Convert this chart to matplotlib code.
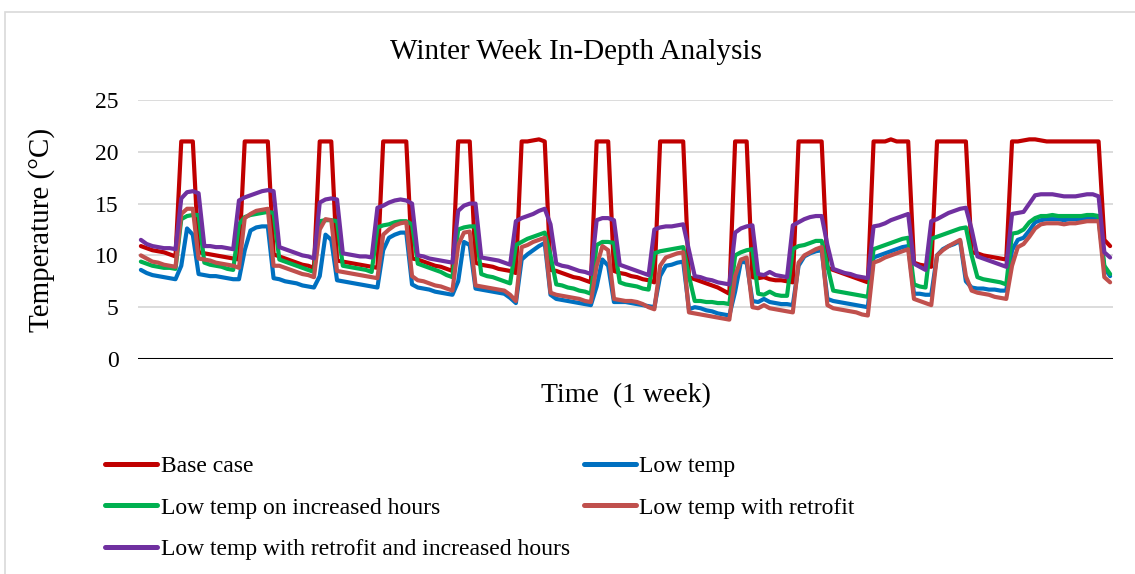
import numpy as np
import matplotlib
matplotlib.use("Agg")
import matplotlib.pyplot as plt
from matplotlib.patches import Rectangle

plt.rcParams["font.family"] = ["Liberation Serif", "DejaVu Serif"]

# hourly temperatures (degC) over one winter week, one row per day
base_case = [
    10.9, 10.7, 10.5, 10.4, 10.3, 10.1, 9.9, 21.0, 21.0, 21.0, 10.3, 10.2, 10.1, 10.0, 9.9, 9.8, 9.7, 9.6, 21.0, 21.0, 21.0, 21.0, 21.0, 10.1,
    9.9, 9.7, 9.5, 9.3, 9.1, 9.0, 8.8, 21.0, 21.0, 21.0, 9.5, 9.4, 9.3, 9.2, 9.1, 9.0, 8.9, 8.8, 21.0, 21.0, 21.0, 21.0, 21.0, 9.7,
    9.6, 9.4, 9.2, 9.0, 8.9, 8.7, 8.5, 21.0, 21.0, 21.0, 9.3, 9.1, 9.0, 8.9, 8.7, 8.6, 8.5, 8.3, 21.0, 21.0, 21.1, 21.2, 21.0, 8.6,
    8.5, 8.3, 8.1, 7.9, 7.8, 7.6, 7.4, 21.0, 21.0, 21.0, 8.5, 8.3, 8.2, 8.0, 7.9, 7.7, 7.6, 7.4, 21.0, 21.0, 21.0, 21.0, 21.0, 7.9,
    7.7, 7.5, 7.3, 7.1, 6.9, 6.6, 6.3, 21.0, 21.0, 21.0, 7.9, 7.8, 7.9, 7.7, 7.6, 7.6, 7.5, 7.4, 21.0, 21.0, 21.0, 21.0, 21.0, 8.8,
    8.6, 8.4, 8.2, 8.0, 7.8, 7.6, 7.4, 21.0, 21.0, 21.0, 21.2, 21.0, 21.0, 21.0, 9.3, 9.1, 9.0, 8.9, 21.0, 21.0, 21.0, 21.0, 21.0, 21.0,
    10.3, 10.2, 10.0, 9.9, 9.8, 9.7, 9.6, 21.0, 21.0, 21.1, 21.2, 21.2, 21.1, 21.0, 21.0, 21.0, 21.0, 21.0, 21.0, 21.0, 21.0, 21.0, 21.0, 11.5,
    10.9,
]

low_temp = [
    8.6, 8.3, 8.1, 8.0, 7.9, 7.8, 7.7, 9.0, 12.6, 12.0, 8.2, 8.1, 8.0, 8.0, 7.9, 7.8, 7.7, 7.7, 10.5, 12.4, 12.7, 12.8, 12.8, 7.8,
    7.7, 7.5, 7.4, 7.3, 7.1, 7.0, 6.9, 8.0, 12.0, 11.5, 7.6, 7.5, 7.4, 7.3, 7.2, 7.1, 7.0, 6.9, 10.5, 11.7, 12.0, 12.2, 12.2, 7.2,
    6.9, 6.8, 6.7, 6.5, 6.4, 6.3, 6.2, 7.5, 11.3, 11.0, 6.8, 6.7, 6.6, 6.5, 6.4, 6.3, 5.9, 5.4, 9.6, 10.1, 10.5, 10.9, 11.2, 6.2,
    5.8, 5.7, 5.6, 5.5, 5.4, 5.3, 5.2, 7.0, 9.6, 9.0, 5.5, 5.5, 5.5, 5.4, 5.3, 5.2, 5.1, 5.0, 8.0, 9.0, 9.1, 9.3, 9.4, 4.8,
    5.0, 4.9, 4.7, 4.6, 4.4, 4.3, 4.2, 6.5, 9.4, 9.3, 5.6, 5.5, 5.8, 5.5, 5.4, 5.3, 5.3, 5.2, 9.0, 9.9, 10.2, 10.4, 10.5, 5.8,
    5.6, 5.5, 5.4, 5.3, 5.2, 5.1, 5.0, 9.8, 10.0, 10.2, 10.4, 10.6, 10.8, 10.9, 6.3, 6.3, 6.2, 6.2, 10.0, 10.6, 10.9, 11.1, 11.4, 7.5,
    6.9, 6.8, 6.8, 6.7, 6.7, 6.6, 6.6, 10.5, 11.5, 11.7, 12.4, 13.2, 13.4, 13.5, 13.5, 13.5, 13.4, 13.5, 13.5, 13.5, 13.6, 13.6, 13.5, 8.8,
    8.0,
]

low_temp_hours = [
    9.4, 9.2, 9.0, 8.9, 8.8, 8.8, 8.7, 13.5, 13.8, 13.9, 13.9, 9.3, 9.1, 9.0, 8.9, 8.7, 8.6, 13.0, 13.7, 13.9, 14.0, 14.1, 14.2, 14.1,
    9.6, 9.4, 9.2, 9.0, 8.8, 8.6, 8.4, 13.3, 13.4, 13.4, 13.3, 9.0, 8.9, 8.8, 8.7, 8.6, 8.4, 12.7, 12.9, 13.0, 13.2, 13.3, 13.3, 13.0,
    9.2, 9.0, 8.8, 8.6, 8.4, 8.1, 7.9, 12.5, 12.7, 12.8, 12.8, 8.2, 8.0, 7.9, 7.7, 7.5, 7.3, 11.0, 11.3, 11.6, 11.8, 12.0, 12.2, 10.0,
    7.2, 7.1, 6.9, 6.8, 6.6, 6.5, 6.3, 11.0, 11.3, 11.3, 11.2, 7.4, 7.2, 7.1, 7.0, 6.8, 6.7, 10.2, 10.4, 10.5, 10.6, 10.7, 10.8, 8.0,
    5.6, 5.6, 5.5, 5.5, 5.4, 5.4, 5.3, 10.0, 10.3, 10.5, 10.6, 6.3, 6.2, 6.5, 6.2, 6.1, 6.1, 10.6, 10.9, 11.0, 11.2, 11.4, 11.4, 9.0,
    6.6, 6.5, 6.4, 6.3, 6.2, 6.1, 6.0, 10.6, 10.8, 11.0, 11.2, 11.4, 11.6, 11.7, 7.2, 7.0, 6.9, 11.6, 11.8, 12.0, 12.2, 12.4, 12.6, 12.7,
    10.0, 7.9, 7.7, 7.6, 7.5, 7.4, 7.2, 12.1, 12.2, 12.5, 13.2, 13.6, 13.8, 13.8, 13.9, 13.8, 13.8, 13.8, 13.8, 13.8, 13.9, 13.9, 13.8, 9.0,
    8.2,
]

low_temp_retrofit = [
    10.0, 9.7, 9.4, 9.3, 9.1, 9.0, 8.9, 14.0, 14.5, 14.5, 9.7, 9.6, 9.5, 9.3, 9.2, 9.1, 9.0, 8.8, 13.6, 14.0, 14.3, 14.4, 14.5, 9.0,
    9.0, 8.8, 8.6, 8.4, 8.2, 8.1, 7.9, 12.5, 13.5, 13.4, 8.5, 8.4, 8.3, 8.2, 8.1, 8.0, 7.9, 7.8, 12.0, 12.5, 12.9, 13.1, 13.2, 8.0,
    7.6, 7.5, 7.3, 7.1, 7.0, 6.8, 6.6, 11.0, 12.2, 12.3, 7.1, 7.0, 6.9, 6.8, 6.7, 6.6, 6.2, 5.6, 10.8, 11.0, 11.3, 11.5, 11.7, 6.4,
    6.2, 6.1, 6.0, 5.9, 5.8, 5.6, 5.5, 9.0, 10.9, 10.5, 5.8, 5.7, 5.6, 5.6, 5.5, 5.3, 5.0, 4.8, 9.0, 9.8, 10.0, 10.2, 10.3, 4.5,
    4.4, 4.3, 4.2, 4.1, 4.0, 3.9, 3.8, 8.0, 9.6, 9.8, 5.0, 4.9, 5.2, 4.9, 4.8, 4.7, 4.6, 4.5, 9.3, 10.0, 10.3, 10.6, 10.8, 5.2,
    4.9, 4.8, 4.7, 4.6, 4.5, 4.3, 4.2, 9.3, 9.5, 9.8, 10.0, 10.2, 10.4, 10.6, 5.8, 5.6, 5.4, 5.2, 10.0, 10.5, 10.9, 11.2, 11.5, 8.0,
    6.6, 6.4, 6.3, 6.2, 6.0, 5.9, 5.8, 9.0, 10.8, 11.1, 11.8, 12.6, 13.0, 13.1, 13.1, 13.1, 13.0, 13.1, 13.1, 13.2, 13.3, 13.3, 13.3, 7.9,
    7.4,
]

low_temp_retrofit_hours = [
    11.5, 11.1, 10.9, 10.8, 10.7, 10.7, 10.6, 15.5, 16.1, 16.2, 16.0, 10.9, 10.9, 10.8, 10.8, 10.7, 10.6, 15.3, 15.6, 15.8, 16.0, 16.2, 16.3, 16.2,
    10.8, 10.6, 10.4, 10.2, 10.0, 9.9, 9.7, 15.1, 15.4, 15.5, 15.4, 10.2, 10.1, 10.0, 9.9, 9.9, 9.8, 14.6, 14.8, 15.1, 15.3, 15.4, 15.3, 15.0,
    10.0, 9.9, 9.7, 9.6, 9.5, 9.4, 9.3, 14.3, 14.8, 15.0, 15.0, 9.8, 9.7, 9.6, 9.5, 9.3, 9.1, 13.3, 13.6, 13.8, 14.0, 14.3, 14.5, 13.0,
    9.2, 9.0, 8.9, 8.7, 8.5, 8.4, 8.2, 13.4, 13.6, 13.6, 13.4, 9.1, 8.9, 8.7, 8.5, 8.3, 8.1, 12.5, 12.7, 12.8, 12.8, 12.9, 13.0, 10.5,
    8.0, 7.9, 7.7, 7.6, 7.4, 7.3, 7.2, 12.2, 12.6, 12.8, 12.9, 8.2, 8.1, 8.4, 8.1, 8.0, 7.9, 12.9, 13.2, 13.5, 13.7, 13.8, 13.8, 11.0,
    8.7, 8.5, 8.3, 8.2, 8.0, 7.9, 7.8, 12.8, 12.9, 13.1, 13.4, 13.6, 13.8, 14.0, 9.2, 8.9, 8.6, 13.3, 13.5, 13.8, 14.1, 14.3, 14.5, 14.6,
    12.5, 9.9, 9.7, 9.5, 9.3, 9.1, 8.9, 14.0, 14.1, 14.2, 15.0, 15.8, 15.9, 15.9, 15.9, 15.8, 15.7, 15.7, 15.7, 15.8, 15.9, 15.9, 15.7, 10.3,
    9.8,
]

series_names = [
    "Base case",
    "Low temp",
    "Low temp on increased hours",
    "Low temp with retrofit",
    "Low temp with retrofit and increased hours",
]
series_colors = ["#C00000", "#0070C0", "#00B050", "#C0504D", "#7030A0"]
y_ticks = [0, 5, 10, 15, 20, 25]

W, H = 1135, 574
fig = plt.figure(figsize=(W / 100, H / 100), dpi=100)
ax = fig.add_axes([138 / W, 1 - 359 / H, 975 / W, 259 / H])

all_series = [base_case, low_temp, low_temp_hours, low_temp_retrofit, low_temp_retrofit_hours]
hours = np.arange(len(base_case))
lines = []
for values, name, color in zip(all_series, series_names, series_colors):
    (ln,) = ax.plot(hours, values, color=color, lw=3.0, label=name,
                    solid_joinstyle="round", solid_capstyle="round")
    lines.append(ln)

ax.set_xlim(-0.5, len(base_case) - 0.5)
ax.set_ylim(0, 25)
ax.set_yticks(y_ticks)
ax.set_xticks([])
ax.grid(axis="y", color="#d9d9d9", lw=1.3)
ax.set_axisbelow(True)
ax.axhline(0, color="black", lw=2.2, zorder=1)
for s in ax.spines.values():
    s.set_visible(False)
ax.tick_params(axis="y", length=0, pad=14, labelsize=17)

ax.set_ylabel("Temperature (°C)", fontsize=21)
ax.yaxis.set_label_coords(-0.085, 0.5)
ax.set_xlabel("Time  (1 week)", fontsize=20, labelpad=17)

fig.text(576 / W, 1 - 52 / H, "Winter Week In-Depth Analysis", fontsize=21,
         ha="center", va="center")

# legend reads row by row: base/low temp, increased/retrofit, retrofit+hours
order = [0, 2, 4, 1, 3]
leg = fig.legend([lines[i] for i in order], [series_names[i] for i in order],
                 ncol=2, loc="upper left", bbox_to_anchor=(84 / W, 1 - 434 / H),
                 frameon=False, fontsize=17, handlelength=2.2, handletextpad=0.15,
                 columnspacing=0.58, labelspacing=0.86)
for h in leg.legend_handles:
    h.set_linewidth(3.6)

fig.add_artist(Rectangle((4.5 / W, -0.1), 1.2, 1.1 - 12 / H, transform=fig.transFigure,
                         fill=False, ec="#d9d9d9", lw=1.2))

fig.savefig("out.png", dpi=100)
